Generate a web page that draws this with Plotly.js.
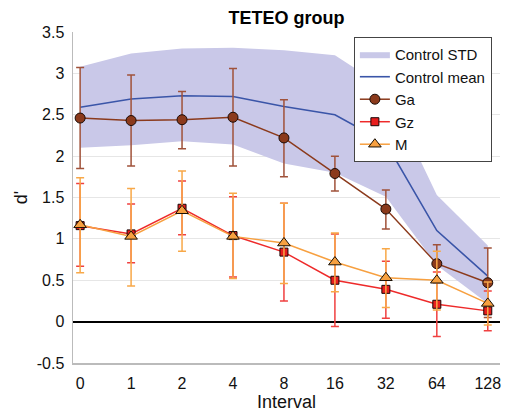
<!DOCTYPE html>
<html>
<head>
<meta charset="utf-8">
<script src="https://cdn.plot.ly/plotly-3.0.1.min.js"></script>
<style>html,body{margin:0;padding:0;background:#fff}#chart{width:507px;height:418px}</style>
</head>
<body>
<div id="chart"></div>
<script>
const categories = ['0','1','2','4','8','16','32','64','128'];
const controlMean  = [2.59, 2.69, 2.73, 2.72, 2.60, 2.50, 2.16, 1.10, 0.55];
const controlUpper = [3.08, 3.24, 3.30, 3.31, 3.28, 3.22, 2.82, 1.53, 0.92];
const controlLower = [2.10, 2.13, 2.18, 2.14, 1.91, 1.80, 1.51, 0.68, 0.22];
const gaMean  = [2.46, 2.43, 2.44, 2.47, 2.22, 1.79, 1.36, 0.70, 0.47];
const gaPlus  = [0.61, 0.55, 0.34, 0.59, 0.46, 0.21, 0.23, 0.23, 0.42];
const gaMinus = [0.61, 0.55, 0.35, 0.59, 0.47, 0.21, 0.24, 0.23, 0.42];
const gzMean  = [1.16, 1.06, 1.37, 1.04, 0.84, 0.50, 0.39, 0.21, 0.13];
const gzPlus  = [0.51, 0.36, 0.33, 0.47, 0.59, 0.56, 0.34, 0.39, 0.24];
const gzMinus = [0.49, 0.35, 0.32, 0.50, 0.59, 0.56, 0.35, 0.39, 0.24];
const mMean   = [1.17, 1.03, 1.34, 1.03, 0.95, 0.72, 0.53, 0.50, 0.22];
const mPlus   = [0.57, 0.58, 0.48, 0.52, 0.48, 0.35, 0.35, 0.35, 0.26];
const mMinus  = [0.58, 0.60, 0.49, 0.51, 0.49, 0.36, 0.36, 0.36, 0.26];
const yTickVals = [-0.5, 0, 0.5, 1, 1.5, 2, 2.5, 3, 3.5];
const yTickText = ['-0.5', '0', '0.5', '1', '1.5', '2', '2.5', '3', '3.5'];

const font = 'Liberation Sans, Arial, Helvetica, sans-serif';
const idx = categories.map((c, i) => i);

const traces = [
  {
    x: idx.concat(idx.slice().reverse()),
    y: controlUpper.concat(controlLower.slice().reverse()),
    type: 'scatter', mode: 'lines', fill: 'toself',
    fillcolor: 'rgba(201,200,232,1)', line: {width: 0, color: 'rgba(201,200,232,1)'},
    name: 'Control STD', hoverinfo: 'skip'
  },
  {
    x: idx, y: controlMean, type: 'scatter', mode: 'lines',
    line: {color: '#3a55a8', width: 1.6}, name: 'Control mean'
  },
  {
    x: idx, y: gaMean, type: 'scatter', mode: 'lines+markers',
    line: {color: '#8b3a1c', width: 1.5},
    marker: {symbol: 'circle', size: 10, color: '#8b3a1c', line: {color: '#1a0a05', width: 1}},
    error_y: {type: 'data', symmetric: false, array: gaPlus, arrayminus: gaMinus, color: '#a0523a', thickness: 1.5, width: 4},
    name: 'Ga'
  },
  {
    x: idx, y: gzMean, type: 'scatter', mode: 'lines+markers',
    line: {color: '#ee2a2a', width: 1.5},
    marker: {symbol: 'square', size: 8, color: '#e81e1e', line: {color: '#1a0505', width: 1}},
    error_y: {type: 'data', symmetric: false, array: gzPlus, arrayminus: gzMinus, color: '#f04040', thickness: 1.5, width: 4},
    name: 'Gz'
  },
  {
    x: idx, y: mMean, type: 'scatter', mode: 'lines+markers',
    line: {color: '#f7a040', width: 1.5},
    marker: {symbol: 'triangle-up', size: 11, color: '#f7a040', line: {color: '#1a1005', width: 1}},
    error_y: {type: 'data', symmetric: false, array: mPlus, arrayminus: mMinus, color: '#f8a848', thickness: 1.5, width: 4},
    name: 'M'
  }
];

const layout = {
  width: 507, height: 418,
  margin: {l: 73, r: 7, t: 32, b: 55, pad: 0},
  paper_bgcolor: '#fff', plot_bgcolor: '#fff',
  font: {family: font, size: 15, color: '#111'},
  title: {text: '<b>TETEO group</b>', font: {family: font, size: 18, color: '#000'}, x: 0.5, xref: 'paper', xanchor: 'center', y: 0.958, yanchor: 'middle'},
  showlegend: true,
  legend: {
    x: 0.981, xanchor: 'right', y: 0.985, yanchor: 'top',
    bgcolor: '#fff', bordercolor: '#444', borderwidth: 1,
    font: {family: font, size: 15, color: '#111'},
    tracegroupgap: 0, itemwidth: 30
  },
  xaxis: {
    range: [-0.14, 8.24], tickvals: idx, ticktext: categories,
    showgrid: false, zeroline: false,
    showline: true, linecolor: '#bbb', linewidth: 1.5,
    ticks: 'outside', ticklen: 5, tickcolor: 'rgba(0,0,0,0)',
    tickfont: {family: font, size: 16, color: '#111'},
    title: {text: 'Interval', font: {family: font, size: 18, color: '#111'}, standoff: 4}
  },
  yaxis: {
    range: [-0.5, 3.5], tickvals: yTickVals, ticktext: yTickText,
    showgrid: true, gridcolor: '#e6e6e6', gridwidth: 1,
    zeroline: true, zerolinecolor: '#000', zerolinewidth: 2,
    showline: true, linecolor: '#bbb', linewidth: 1.5,
    ticks: 'outside', ticklen: 4, tickcolor: 'rgba(0,0,0,0)',
    tickfont: {family: font, size: 16, color: '#111'},
    title: {text: "d'", font: {family: font, size: 18, color: '#111'}, standoff: 4}
  }
};

Plotly.newPlot('chart', traces, layout, {displayModeBar: false, staticPlot: true});
</script>
</body>
</html>
